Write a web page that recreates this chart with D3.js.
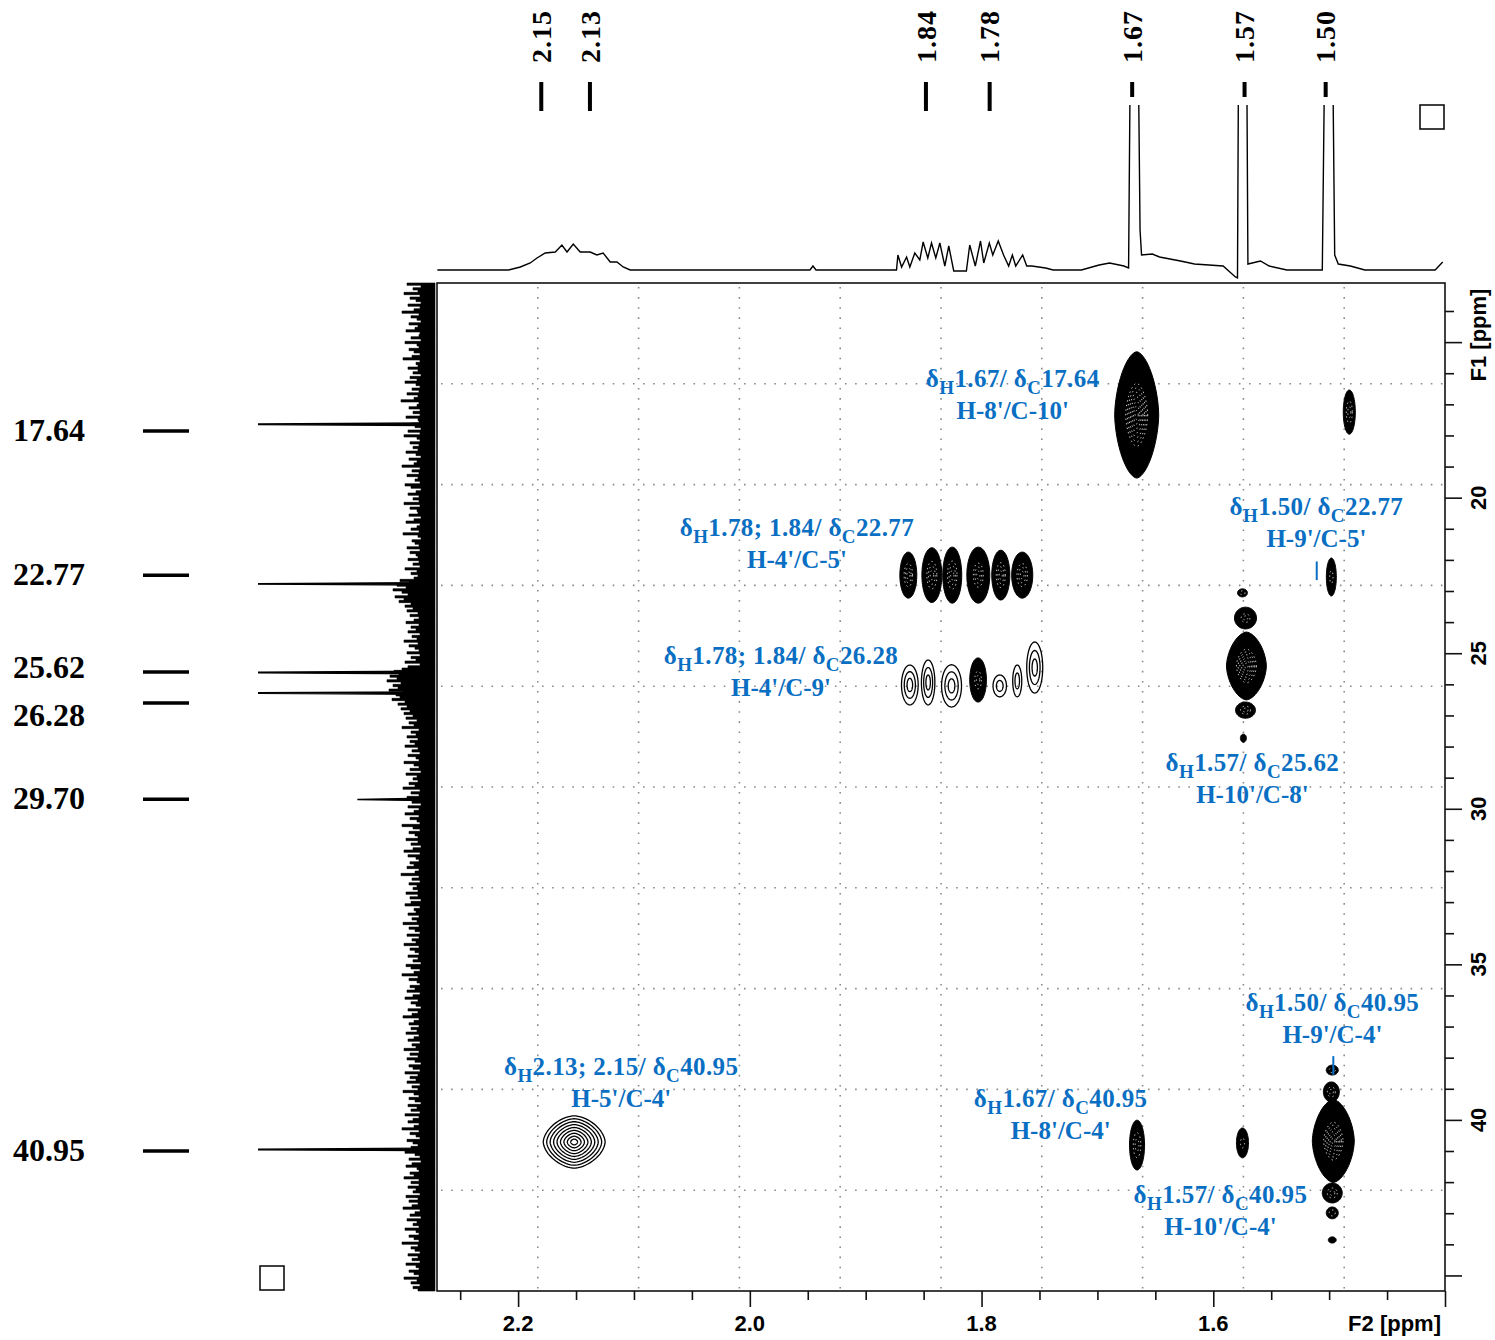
<!DOCTYPE html>
<html>
<head>
<meta charset="utf-8">
<script src="https://cdn.jsdelivr.net/npm/d3@7"></script>
<style>
  body { margin: 0; background: #fff; }
  text { font-family: "Liberation Serif", "Times New Roman", serif; }
  .axis-label { font-family: "Liberation Sans", Arial, sans-serif; font-weight: bold; font-size: 22px; }
</style>
</head>
<body>
<svg id="chart" width="1495" height="1340"></svg>
<script>
// ---- axis ranges (ppm) ----
const f2Domain = [2.27, 1.40];   // 1H, horizontal
const f1Domain = [13.1, 45.5];   // 13C, vertical

// ---- 1H peak labels on top ----
const protonLabels = ["2.15", "2.13", "1.84", "1.78", "1.67", "1.57", "1.50"];
const protonLabelPpm = [2.180, 2.138, 1.848, 1.793, 1.670, 1.573, 1.503];
const protonTallPeak = [false, false, false, false, true, true, true];

// ---- 13C peak labels on the left ----
const carbonLabels = ["17.64", "22.77", "25.62", "26.28", "29.70", "40.95"];
const carbonDashPpm = [17.86, 22.49, 25.60, 26.60, 29.69, 41.00];
const carbonTextPpm = [17.83, 22.45, 25.44, 26.99, 29.65, 40.97];

// ---- 1D 1H trace (ppm, intensity) ----
const protonTrace = [
  [2.2697,0],[2.2082,0],[2.1981,3],[2.1895,7],[2.1837,12],[2.1766,17],[2.1679,18],[2.1622,25],
  [2.1578,18],[2.1524,26],[2.1464,18],[2.1378,18],[2.1320,15],[2.1266,17],[2.1205,8],[2.1147,8],
  [2.1093,3],[2.1033,0],[1.9481,0],[1.9455,4],[1.9429,0],
  [1.8734,0],[1.8722,15],[1.8690,3],[1.8647,13],[1.8619,3],[1.8576,17],[1.8533,10],[1.8504,28],
  [1.8464,12],[1.8432,27],[1.8395,12],[1.8360,27],[1.8317,4],[1.8283,24],[1.8240,-1],[1.8131,-1],
  [1.8102,25],[1.8054,4],[1.8009,29],[1.7981,7],[1.7933,27],[1.7903,15],[1.7856,29],[1.7810,15],
  [1.7766,4],[1.7734,15],[1.7705,4],[1.7645,15],[1.7610,4],[1.7567,4],[1.7447,2],[1.7382,0],
  [1.7138,0],[1.6985,5],[1.6895,7],[1.6771,4],[1.6731,2],[1.6718,190],[1.6645,190],[1.6632,40],
  [1.6619,15],[1.6526,16],[1.6464,13],[1.6283,9],[1.6162,6],[1.5915,4],[1.5809,-7],[1.5791,-8],
  [1.5783,190],[1.5710,190],[1.5701,6],[1.5593,9],[1.5517,4],[1.5365,0],[1.5059,0],[1.5041,190],
  [1.4967,190],[1.4952,15],[1.4921,6],[1.4817,4],[1.4692,0],[1.4085,0],[1.4020,8]
];

// ---- 1D 13C trace: peaks and baseline noise (one value every 0.075 ppm from 13.1) ----
const carbonPeakPpm = [17.64, 22.77, 25.62, 26.28, 29.70, 40.95];
const carbonPeakInt = [200, 200, 200, 200, 77, 200];
const carbonNoiseStart = 13.1;
const carbonNoiseStep = 0.075;
const carbonNoise = [
  16,28,14,22,17,31,15,25,19,14,27,15,21,33,16,24,18,14,26,17,
  20,29,15,16,24,14,30,18,16,26,21,15,23,32,15,19,17,27,17,22,
  14,25,18,30,19,15,23,16,28,17,21,34,16,18,26,15,22,15,29,17,
  16,24,20,14,27,15,31,18,15,25,16,22,17,29,19,14,26,18,21,33,
  15,23,16,28,17,20,15,30,24,14,19,27,16,22,16,31,15,25,18,17,
  26,14,21,29,15,18,24,16,32,17,14,23,20,16,28,15,25,19,17,27,
  16,22,15,30,18,24,17,21,35,26,38,29,42,33,27,40,31,36,24,30,
  22,28,17,25,16,21,29,16,24,19,27,15,23,18,31,17,26,20,16,28,
  15,24,19,30,15,27,33,41,36,45,38,48,34,42,37,46,32,39,35,43,
  30,37,28,34,25,31,22,29,18,26,21,33,16,24,19,28,17,25,20,30,
  17,23,15,27,19,16,31,21,16,25,14,29,18,22,17,26,20,32,15,24,
  16,28,19,23,14,27,16,21,30,16,25,18,15,33,22,15,26,20,17,29,
  17,24,14,22,31,15,27,19,16,25,21,28,16,20,34,16,23,15,26,18,
  22,17,29,17,25,14,24,30,15,21,19,27,16,23,18,32,16,26,20,15,
  28,16,23,19,31,16,25,20,16,27,17,22,14,29,24,15,21,33,17,26,
  18,15,25,20,28,15,22,30,17,24,19,14,27,17,23,32,16,21,26,16,
  24,18,29,16,21,27,15,23,19,31,16,25,17,28,20,14,26,22,15,30,
  17,25,19,28,15,23,17,32,21,16,26,20,14,27,18,24,15,30,16,22,
  27,16,21,33,16,25,19,15,28,22,17,24,17,30,20,15,26,14,23,29,
  18,16,25,21,31,16,24,16,27,19,22,15,29,17,26,17,23,32,15,20,
  25,14,28,18,22,16,30,19,16,26,21,16,33,17,24,20,15,27,17,23,
  15,29,19,16,26,21,16,31,18,24,15,22,17
];

// ---- HMBC cross peaks: [dH, dC, half width H, half width C, contour levels] ----
const crossPeaks = [
  [1.6661, 17.34, 0.0190, 2.03, 14],
  [1.4826, 17.25, 0.0052, 0.71, 4],
  [1.8632, 22.49, 0.0073, 0.74, 6],
  [1.8429, 22.49, 0.0086, 0.88, 6],
  [1.8253, 22.49, 0.0082, 0.90, 6],
  [1.8028, 22.49, 0.0099, 0.90, 7],
  [1.7834, 22.49, 0.0078, 0.80, 6],
  [1.7649, 22.49, 0.0091, 0.74, 6],
  [1.8619, 26.02, 0.0072, 0.64, 3],
  [1.8461, 25.94, 0.0058, 0.72, 3],
  [1.8259, 26.05, 0.0086, 0.68, 3],
  [1.8030, 25.86, 0.0072, 0.71, 5],
  [1.7843, 26.05, 0.0058, 0.35, 2],
  [1.7692, 25.89, 0.0039, 0.51, 2],
  [1.7541, 25.46, 0.0069, 0.82, 3],
  [1.5714, 25.41, 0.0172, 1.09, 12],
  [1.5722, 23.87, 0.0095, 0.35, 5],
  [1.5748, 23.06, 0.0043, 0.13, 2],
  [1.5722, 26.83, 0.0086, 0.26, 4],
  [1.5740, 27.73, 0.0026, 0.13, 1],
  [1.4981, 22.55, 0.0043, 0.61, 3],
  [2.1516, 40.71, 0.0267, 0.84, 9],
  [1.6658, 40.81, 0.0065, 0.80, 4],
  [1.5748, 40.74, 0.0052, 0.48, 3],
  [1.4964, 40.68, 0.0181, 1.33, 13],
  [1.4981, 39.10, 0.0069, 0.32, 4],
  [1.4973, 38.40, 0.0052, 0.16, 2],
  [1.4973, 42.35, 0.0086, 0.32, 4],
  [1.4973, 42.99, 0.0052, 0.19, 2],
  [1.4973, 43.86, 0.0034, 0.10, 1]
];
// peaks drawn with open (thin) contour rings
const openContourPeaks = [8, 9, 10, 12, 13, 14, 21];

// ---- annotations (blue) ----
const annoLine1 = [
  "δ_H1.67/ δ_C17.64", "δ_H1.78; 1.84/ δ_C22.77", "δ_H1.50/ δ_C22.77",
  "δ_H1.78; 1.84/ δ_C26.28", "δ_H1.57/ δ_C25.62", "δ_H1.50/ δ_C40.95",
  "δ_H2.13; 2.15/ δ_C40.95", "δ_H1.67/ δ_C40.95", "δ_H1.57/ δ_C40.95"
];
const annoLine2 = [
  "H-8'/C-10'", "H-4'/C-5'", "H-9'/C-5'", "H-4'/C-9'", "H-10'/C-8'",
  "H-9'/C-4'", "H-5'/C-4'", "H-8'/C-4'", "H-10'/C-4'"
];
const annoH = [1.7731, 1.9593, 1.5110, 1.9731, 1.5662, 1.4972, 2.1110, 1.7317, 1.5938];
const annoC = [16.19, 20.98, 20.30, 25.09, 28.53, 36.24, 38.30, 39.33, 42.42];
const pointerH = [1.5107, 1.4964];
const pointerC = [[22.05, 22.65], [37.95, 38.55]];

// ---- tick values ----
const f2Major = [2.2, 2.0, 1.8, 1.6, 1.4];
const f1Major = [15, 20, 25, 30, 35, 40, 45];
const f1Labelled = [20, 25, 30, 35, 40];

// ================= drawing =================
const blue = "#0a6fc2";
const frame = { left: 437, right: 1445, top: 283, bottom: 1291 };
const svg = d3.select("#chart");

const x = d3.scaleLinear().domain(f2Domain).range([frame.left, frame.right]);
const y = d3.scaleLinear().domain(f1Domain).range([frame.top, frame.bottom]);
const yTop = d3.scaleLinear().domain([0, 165]).range([270, 105]);
const xLeft = d3.scaleLinear().domain([0, 177]).range([435, 258]);

const defs = svg.append("defs");
defs.append("clipPath").attr("id", "clip-top")
  .append("rect").attr("x", frame.left - 5).attr("y", 105).attr("width", frame.right - frame.left + 10).attr("height", 175);
defs.append("clipPath").attr("id", "clip-left")
  .append("rect").attr("x", 258).attr("y", frame.top).attr("width", 180).attr("height", frame.bottom - frame.top);
defs.append("clipPath").attr("id", "clip-plot")
  .append("rect").attr("x", frame.left).attr("y", frame.top).attr("width", frame.right - frame.left).attr("height", frame.bottom - frame.top);

// dotted grid, 10 divisions each way
const gridG = svg.append("g").attr("stroke", "#8a8a8a").attr("stroke-width", 1.6)
  .attr("stroke-dasharray", "1.6,8.5").attr("stroke-linecap", "butt");
d3.range(1, 10).forEach(i => {
  const gx = x(f2Domain[0] + i * (f2Domain[1] - f2Domain[0]) / 10);
  const gy = y(f1Domain[0] + i * (f1Domain[1] - f1Domain[0]) / 10);
  gridG.append("line").attr("x1", gx).attr("x2", gx).attr("y1", frame.top + 4).attr("y2", frame.bottom);
  gridG.append("line").attr("y1", gy).attr("y2", gy).attr("x1", frame.left + 4).attr("x2", frame.right);
});

// top 1H trace
svg.append("path")
  .datum(protonTrace)
  .attr("clip-path", "url(#clip-top)")
  .attr("fill", "none").attr("stroke", "#000").attr("stroke-width", 1.4)
  .attr("d", d3.line().x(d => x(d[0])).y(d => yTop(d[1])));

// left 13C trace: noise band + peaks
const noisePts = carbonNoise.map((v, i) => [carbonNoiseStart + i * carbonNoiseStep, v]);
svg.append("path")
  .datum(noisePts)
  .attr("fill", "#000").attr("stroke", "#000").attr("stroke-width", 0.6)
  .attr("d", d3.area().curve(d3.curveStepAfter)
    .y(d => y(d[0])).x0(xLeft(0)).x1(d => xLeft(d[1])));
const leftPeaks = svg.append("g").attr("clip-path", "url(#clip-left)");
carbonPeakPpm.forEach((c, i) => {
  const pts = [[c - 0.04, 10], [c - 0.005, carbonPeakInt[i]], [c + 0.005, carbonPeakInt[i]], [c + 0.04, 10]];
  leftPeaks.append("path")
    .attr("fill", "#000").attr("stroke", "#000").attr("stroke-width", 1.3)
    .attr("d", d3.line().x(d => xLeft(d[1])).y(d => y(d[0]))(pts));
});

// cross peaks: solid core for strong peaks, open rings for weak ones
function blobPath(cx, cy, rx, ry, p) {
  const pts = d3.range(72).map(i => {
    const t = i / 72 * 2 * Math.PI, c = Math.cos(t), s = Math.sin(t);
    return [cx + rx * Math.sign(c) * Math.pow(Math.abs(c), 2 / p),
            cy + ry * Math.sign(s) * Math.pow(Math.abs(s), 2 / p)];
  });
  return d3.line().curve(d3.curveLinearClosed)(pts);
}
const peaksG = svg.append("g").attr("clip-path", "url(#clip-plot)");
crossPeaks.forEach(([h, c, rh, rc, n], idx) => {
  const cx = x(h), cy = y(c);
  const rx = Math.abs(x(h + rh) - cx), ry = Math.abs(y(c + rc) - cy);
  const p = n >= 8 ? 1.7 : 2;
  if (openContourPeaks.includes(idx)) {
    for (let k = n; k >= 1; k--) {
      peaksG.append("path")
        .attr("d", blobPath(cx, cy, rx * k / n, ry * k / n, p))
        .attr("fill", "none").attr("stroke", "#000").attr("stroke-width", 1.3);
    }
    return;
  }
  peaksG.append("path").attr("d", blobPath(cx, cy, rx, ry, p))
    .attr("fill", "#000").attr("stroke", "#000").attr("stroke-width", 1);
  // white speckles of inner contour levels
  for (let k = 1; k <= Math.floor(n / 2); k++) {
    peaksG.append("path")
      .attr("d", blobPath(cx, cy, rx * k / n, ry * k / n, p))
      .attr("fill", "none").attr("stroke", "#fff").attr("stroke-width", 0.8)
      .attr("stroke-dasharray", "1.4,3.2");
  }
});

// frame
svg.append("rect")
  .attr("x", frame.left).attr("y", frame.top)
  .attr("width", frame.right - frame.left).attr("height", frame.bottom - frame.top)
  .attr("fill", "none").attr("stroke", "#111").attr("stroke-width", 1.6);

// right F1 axis
const f1Minor = d3.range(14, 46).filter(v => !f1Major.includes(v));
const rightAxis = svg.append("g").attr("transform", `translate(${frame.right},0)`);
rightAxis.append("g").call(d3.axisRight(y).tickValues(f1Major).tickSize(17).tickFormat(""));
rightAxis.append("g").call(d3.axisRight(y).tickValues(f1Minor).tickSize(9).tickFormat(""));
rightAxis.selectAll(".domain").remove();
rightAxis.selectAll("line").attr("stroke", "#111").attr("stroke-width", 1.6);
f1Labelled.forEach(v => {
  svg.append("text").attr("class", "axis-label")
    .attr("transform", `translate(1478,${y(v)}) rotate(-90)`)
    .attr("text-anchor", "middle").attr("dy", "0.36em").text(v);
});
svg.append("text").attr("class", "axis-label")
  .attr("transform", `translate(1478,335) rotate(-90)`)
  .attr("text-anchor", "middle").attr("dy", "0.36em").text("F1 [ppm]");

// bottom F2 axis
const f2Minor = d3.range(45, 27, -1).map(v => v / 20).filter(v => !f2Major.some(m => Math.abs(m - v) < 1e-6));
const bottomAxis = svg.append("g").attr("transform", `translate(0,${frame.bottom})`);
bottomAxis.append("g").call(d3.axisBottom(x).tickValues(f2Major).tickSize(16).tickFormat(""));
bottomAxis.append("g").call(d3.axisBottom(x).tickValues(f2Minor).tickSize(9).tickFormat(""));
bottomAxis.selectAll(".domain").remove();
bottomAxis.selectAll("line").attr("stroke", "#111").attr("stroke-width", 1.6);
f2Major.slice(0, 4).forEach(v => {
  svg.append("text").attr("class", "axis-label")
    .attr("x", x(v)).attr("y", 1331).attr("text-anchor", "middle").text(d3.format(".1f")(v));
});
svg.append("text").attr("class", "axis-label")
  .attr("x", 1441).attr("y", 1331).attr("text-anchor", "end").text("F2 [ppm]");

// top proton labels and ticks
protonLabels.forEach((lab, i) => {
  const px = x(protonLabelPpm[i]);
  svg.append("rect").attr("x", px - 2).attr("y", 82)
    .attr("width", 4).attr("height", protonTallPeak[i] ? 15 : 29).attr("fill", "#000");
  svg.append("text")
    .attr("transform", `translate(${px},63) rotate(-90)`)
    .attr("dy", "0.35em").attr("font-size", 28).attr("font-weight", "bold")
    .attr("letter-spacing", 1).text(lab);
});

// left carbon labels and dashes
carbonLabels.forEach((lab, i) => {
  const dy = y(carbonDashPpm[i]);
  svg.append("line").attr("x1", 143).attr("x2", 189).attr("y1", dy).attr("y2", dy)
    .attr("stroke", "#000").attr("stroke-width", 3.5);
  svg.append("text").attr("x", 13).attr("y", y(carbonTextPpm[i]))
    .attr("dy", "0.35em").attr("font-size", 32).attr("font-weight", "bold").text(lab);
});

// little boxes in the corners
svg.append("rect").attr("x", 1420).attr("y", 105).attr("width", 24).attr("height", 24)
  .attr("fill", "none").attr("stroke", "#000").attr("stroke-width", 1.5);
svg.append("rect").attr("x", 260).attr("y", 1266).attr("width", 24).attr("height", 24)
  .attr("fill", "none").attr("stroke", "#000").attr("stroke-width", 1.5);

// blue annotations
function richText(sel, str) {
  const parts = str.split(/_(.)/);
  parts.forEach((part, j) => {
    if (j % 2 === 1) {
      sel.append("tspan").attr("font-size", 19).attr("dy", 7).text(part);
    } else if (part.length) {
      sel.append("tspan").attr("dy", j > 0 ? -7 : 0).text(part);
    }
  });
}
const annoG = svg.append("g").attr("fill", blue).attr("font-weight", "bold").attr("font-size", 25);
annoLine1.forEach((l1, i) => {
  const ax = x(annoH[i]), ay = y(annoC[i]) + 8;
  richText(annoG.append("text").attr("x", ax).attr("y", ay)
    .attr("text-anchor", "middle").attr("letter-spacing", 0.4), l1);
  annoG.append("text").attr("x", ax).attr("y", ay + 32).attr("text-anchor", "middle").text(annoLine2[i]);
});
pointerH.forEach((h, i) => {
  svg.append("line").attr("x1", x(h)).attr("x2", x(h))
    .attr("y1", y(pointerC[i][0])).attr("y2", y(pointerC[i][1]))
    .attr("stroke", blue).attr("stroke-width", 2);
});
</script>
</body>
</html>
